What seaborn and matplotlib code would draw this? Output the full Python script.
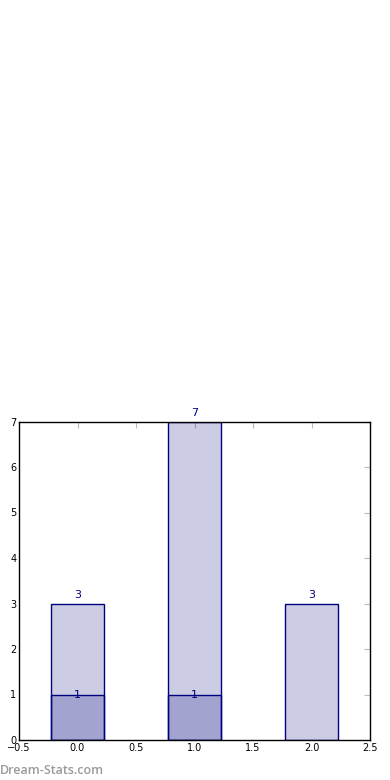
import matplotlib
matplotlib.use("Agg")
import matplotlib.pyplot as plt
import seaborn as sns
import pandas as pd
import numpy as np

# data
positions = [0, 1, 2]
totals = [3, 7, 3]
sub_positions = [0, 1]
sub_values = [1, 1]
xticks = [-0.5, 0.0, 0.5, 1.0, 1.5, 2.0, 2.5]
yticks = [0, 1, 2, 3, 4, 5, 6, 7]
watermark = "Dream-Stats.com"

sns.set_style("white")
plt.rcParams['font.family'] = ['DejaVu Sans']

fig = plt.figure(figsize=(3.9, 7.8), dpi=100)
ax = fig.add_axes([19/390, 40/780, 351/390, 318.5/780])

df_tot = pd.DataFrame({"x": positions, "y": totals})
df_sub = pd.DataFrame({"x": sub_positions, "y": sub_values})

navy = "#000080"
fill = (0, 0, 0.5, 0.2)
sns.barplot(data=df_tot, x="x", y="y", native_scale=True, width=0.45,
            color=navy, ax=ax, errorbar=None, saturation=1,
            linewidth=1, edgecolor=navy)
sns.barplot(data=df_sub, x="x", y="y", native_scale=True, width=0.45,
            color=navy, ax=ax, errorbar=None, saturation=1,
            linewidth=1, edgecolor=navy)
for p in ax.patches:
    p.set_facecolor(fill)
    p.set_edgecolor(navy)

for xp, v in zip(positions, totals):
    ax.text(xp, v + 0.08, str(v), ha="center", va="bottom", color=navy, fontsize=8)
for xp, v in zip(sub_positions, sub_values):
    ax.text(xp, v, str(v), ha="center", va="center", color=navy, fontsize=8)

ax.set_xlim(-0.5, 2.5)
ax.set_ylim(0, 7)
ax.set_xticks(xticks)
ax.set_xticklabels([f"{t:.1f}".replace("-", "\u2212") for t in xticks])
ax.set_yticks(yticks)
ax.set_xlabel("")
ax.set_ylabel("")
ax.tick_params(axis="both", direction="in", length=4, color="#bbbbbb",
               labelsize=7, top=True, right=True, pad=2, labelcolor="black")
for s in ax.spines.values():
    s.set_color("black")
    s.set_linewidth(1)

fig.text(0.0, 10/780, watermark, ha="left", va="center", color="#9a9a9a",
         fontsize=9, fontweight="semibold", family="Open Sans")

fig.savefig("out.png", dpi=100)
